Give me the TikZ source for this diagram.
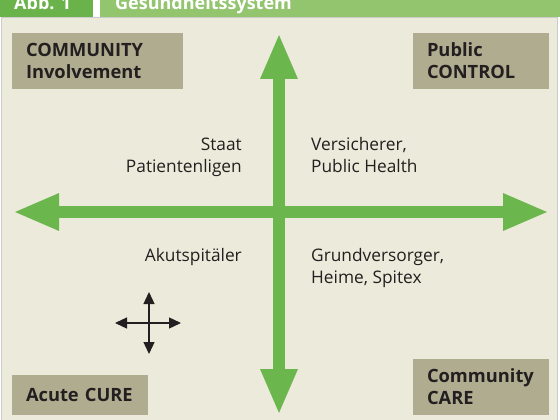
\documentclass[tikz,border=0pt]{standalone}
\usepackage{fontspec}
\setmainfont{Open Sans}
\usepackage{xcolor}
\usetikzlibrary{arrows.meta}

\definecolor{hintergrund}{HTML}{ECEADA}
\definecolor{kastenfarbe}{HTML}{B0AC8F}
\definecolor{pfeilgruen}{HTML}{6BB64D}
\definecolor{kopfdunkel}{HTML}{6AB34A}
\definecolor{kopfhell}{HTML}{93C56F}
\definecolor{schrift}{HTML}{231F20}

\tikzset{
  eckkasten/.style={fill=kastenfarbe, text=schrift, inner xsep=14pt, inner ysep=0pt,
    align=left, font=\bfseries\fontsize{18.3}{22}\selectfont},
  mitte/.style={text=schrift, inner sep=0pt, font=\fontsize{17.3}{22}\selectfont},
  kopftext/.style={text=white, inner sep=0pt, font=\bfseries\fontsize{18}{22}\selectfont},
  grosspfeil/.style={draw=pfeilgruen, line width=11.5pt,
    {Triangle[length=46pt,width=34pt]}-{Triangle[length=46pt,width=34pt]}},
  kleinpfeil/.style={draw=schrift, line width=1.3pt,
    {Triangle[length=12pt,width=11pt]}-{Triangle[length=12pt,width=11pt]}}
}

\begin{document}
\begin{tikzpicture}[x=1pt,y=-1pt]
	\useasboundingbox (0,0) rectangle (560,420);
	\clip (0,0) rectangle (560,420);
	\fill[white] (0,0) rectangle (560,420);
	% Kopfzeile
	\fill[kopfdunkel] (0,0) rectangle (93,17);
	\fill[kopfhell] (100,0) rectangle (560,17);
	\node[kopftext, anchor=base west] (abb) at (14,10) {Abb. 1};
	\node[kopftext, anchor=base west] (titel) at (115,10) {Gesundheitssystem};
	\draw[fill=hintergrund, draw=black!20, line width=0.8pt] (1,17.5) rectangle (557.5,422);
	
	% Ecken
	\node[eckkasten, text width=143pt, minimum height=56pt] (involvement) at (97.5,61) {COMMUNITY\\Involvement};
	\node[eckkasten, text width=108pt, minimum height=56pt] (control) at (481,61) {Public\\CONTROL};
	\node[eckkasten, text width=108pt, minimum height=40pt] (cure) at (80,395) {Acute CURE};
	\node[eckkasten, text width=108pt, minimum height=56pt] (care) at (481,387) {Community\\CARE};
	
	% Achsen
	\coordinate (oben) at (279,33);
	\coordinate (unten) at (279,415);
	\coordinate (links) at (13,212);
	\coordinate (rechts) at (549,212);
	\draw[grosspfeil] (links) -- (rechts);
	\draw[grosspfeil] (unten) -- (oben);
	
	% Quadranten (base = letzte Zeile)
	\node[mitte, anchor=base east, align=right] (staat) at (242,172) {Staat\\Patientenligen};
	\node[mitte, anchor=base west, align=left] (versicherer) at (311,172) {Versicherer,\\Public Health};
	\node[mitte, anchor=base east, align=right] (akut) at (242,261) {Akutspitäler};
	\node[mitte, anchor=base west, align=left] (grund) at (311,283) {Grundversorger,\\Heime, Spitex};
	
	% kleines Kreuz
	\coordinate (kreuzoben) at (149,292);
	\coordinate (kreuzunten) at (149,354);
	\coordinate (kreuzlinks) at (115,323);
	\coordinate (kreuzrechts) at (181,323);
	\draw[kleinpfeil] (kreuzunten) -- (kreuzoben);
	\draw[kleinpfeil] (kreuzlinks) -- (kreuzrechts);
\end{tikzpicture}
\end{document}
